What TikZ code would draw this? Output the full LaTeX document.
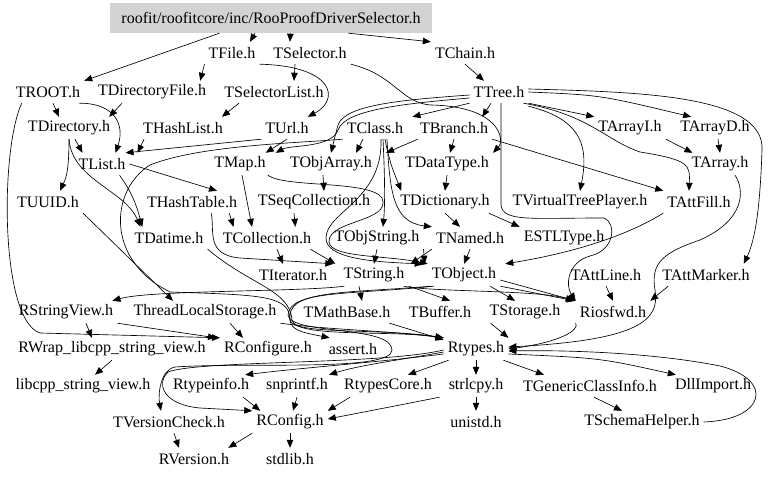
\documentclass[tikz,border=0pt]{standalone}
\usepackage{fontspec}
\setmainfont{Liberation Serif}
\usetikzlibrary{arrows.meta,calc}
\definecolor{rootgray}{RGB}{211,211,211}
\begin{document}
\begin{tikzpicture}[x=1pt,y=-1pt,
  n/.style={inner xsep=4pt,inner ysep=0pt,minimum height=22pt,font=\fontsize{16}{18}\selectfont},
  e/.style={-{Triangle[length=8pt,width=6.5pt]},line width=0.65pt},
  rootbox/.style={n,fill=rootgray,minimum width=322pt,minimum height=30pt}]
\useasboundingbox (0,0) rectangle (768,478);
% nodes
\node[rootbox] (root) at (271,18) {roofit/roofitcore/inc/RooProofDriverSelector.h};
\node[n] (TFile) at (232,53) {TFile.h};
\node[n] (TSelector) at (310,53) {TSelector.h};
\node[n] (TChain) at (465,53) {TChain.h};
\node[n] (TROOT) at (48,92) {TROOT.h};
\node[n] (TDirectoryFile) at (152,92) {TDirectoryFile.h};
\node[n] (TSelectorList) at (274,92) {TSelectorList.h};
\node[n] (TTree) at (499,92) {TTree.h};
\node[n] (TDirectory) at (69,128) {TDirectory.h};
\node[n] (THashList) at (183,128) {THashList.h};
\node[n] (TUrl) at (287,128) {TUrl.h};
\node[n] (TClass) at (375,128) {TClass.h};
\node[n] (TBranch) at (454,128) {TBranch.h};
\node[n] (TArrayI) at (630,128) {TArrayI.h};
\node[n] (TArrayD) at (715,128) {TArrayD.h};
\node[n] (TList) at (102,164) {TList.h};
\node[n] (TMap) at (240,164) {TMap.h};
\node[n] (TObjArray) at (331,164) {TObjArray.h};
\node[n] (TDataType) at (447,164) {TDataType.h};
\node[n] (TArray) at (720,164) {TArray.h};
\node[n] (TUUID) at (48,202) {TUUID.h};
\node[n] (THashTable) at (192,202) {THashTable.h};
\node[n] (TSeqCollection) at (314,202) {TSeqCollection.h};
\node[n] (TDictionary) at (445,202) {TDictionary.h};
\node[n] (TVirtualTreePlayer) at (580,202) {TVirtualTreePlayer.h};
\node[n] (TAttFill) at (699,202) {TAttFill.h};
\node[n] (TDatime) at (169,238) {TDatime.h};
\node[n] (TCollection) at (267,238) {TCollection.h};
\node[n] (TObjString) at (377,238) {TObjString.h};
\node[n] (TNamed) at (470,238) {TNamed.h};
\node[n] (ESTLType) at (564,238) {ESTLType.h};
\node[n] (TIterator) at (293,275) {TIterator.h};
\node[n] (TString) at (374,275) {TString.h};
\node[n] (TObject) at (464,275) {TObject.h};
\node[n] (TAttLine) at (606,275) {TAttLine.h};
\node[n] (TAttMarker) at (706,275) {TAttMarker.h};
\node[n] (RStringView) at (66,312) {RStringView.h};
\node[n] (ThreadLocalStorage) at (205,312) {ThreadLocalStorage.h};
\node[n] (TMathBase) at (347,312) {TMathBase.h};
\node[n] (TBuffer) at (440,312) {TBuffer.h};
\node[n] (TStorage) at (525,312) {TStorage.h};
\node[n] (Riosfwd) at (613,312) {Riosfwd.h};
\node[n] (RWrap) at (112,349) {RWrap\_libcpp\_string\_view.h};
\node[n] (RConfigure) at (268,349) {RConfigure.h};
\node[n] (assert) at (353,349) {assert.h};
\node[n] (Rtypes) at (476,349) {Rtypes.h};
\node[n] (libcpp) at (83,386) {libcpp\_string\_view.h};
\node[n] (Rtypeinfo) at (211,386) {Rtypeinfo.h};
\node[n] (snprintf) at (297,386) {snprintf.h};
\node[n] (RtypesCore) at (388,386) {RtypesCore.h};
\node[n] (strlcpy) at (476,386) {strlcpy.h};
\node[n] (TGenericClassInfo) at (590,386) {TGenericClassInfo.h};
\node[n] (DllImport) at (713,386) {DllImport.h};
\node[n] (TVersionCheck) at (169,422) {TVersionCheck.h};
\node[n] (RConfig) at (290,422) {RConfig.h};
\node[n] (unistd) at (476,422) {unistd.h};
\node[n] (TSchemaHelper) at (642,422) {TSchemaHelper.h};
\node[n] (RVersion) at (194,459) {RVersion.h};
\node[n] (stdlib) at (290,459) {stdlib.h};
% edges: top
\draw[e] ($(root.south west)!.34!(root.south east)$) -- (TROOT.north east);
\draw[e] ($(root.south west)!.45!(root.south east)$) -- ($(TFile.north)+(18,0)$);
\draw[e] ($(root.south west)!.56!(root.south east)$) -- ($(TSelector.north)+(-20,0)$);
\draw[e] ($(root.south west)!.74!(root.south east)$) -- (TChain.north west);
\draw[e] (TFile.south west) -- ($(TDirectoryFile.north east)+(-10,0)$);
\draw[e] (TFile.south east) .. controls (335,66) and (340,100) .. ($(TUrl.north east)+(-5,0)$);
\draw[e] ($(TSelector.south)+(-15,0)$) -- ($(TSelectorList.north)+(20,0)$);
\draw[e] (TSelector.south east) .. controls (395,75) and (400,102) .. (430,105) .. controls (500,106) and (505,140) .. (TDataType.north east);
\draw[e] (TChain.south) -- ($(TTree.north)+(-15,0)$);
\draw[e] ($(TROOT.south)+(5,0)$) -- ($(TDirectory.north)+(-10,0)$);
\draw[e] ($(TROOT.south east)+(-5,0)$) .. controls (115,103) and (125,125) .. ($(TList.north east)+(-14,0)$);
\draw[e] ($(TROOT.south west)+(10,0)$) .. controls (0,150) and (0,320) .. (40,333) -- (RConfigure.north west);
\draw[e] ($(TDirectoryFile.south)+(-30,0)$) -- ($(TDirectory.north east)+(-5,0)$);
\draw[e] ($(TSelectorList.south)+(-35,0)$) -- ($(THashList.north east)+(-5,0)$);
\draw[e] ($(THashList.south west)+(5,0)$) -- ($(TList.north east)+(8,0)$);
\draw[e] (TUrl.south west) -- ($(TList.north east)+(-4,0)$);
\draw[e] ($(TDirectory.south)+(6,0)$) -- ($(TList.north west)+(8,0)$);
\draw[e] (TUrl.south) -- ($(TMap.north east)+(-4,0)$);
\draw[e] (TDirectory.south) .. controls (69,175) and (65,180) .. ($(TUUID.north)+(12,0)$);
\draw[e] (TDirectory.south) .. controls (72,180) and (125,190) .. ($(TDatime.north west)+(10,0)$);
% TTree
\draw[e] (TTree.south west) -- ($(TClass.north east)+(5,0)$);
\draw[e] ($(TTree.south)+(-8,0)$) -- ($(TBranch.north east)+(-10,0)$);
\draw[e] (TTree.south east) -- (TArrayI.north west);
\draw[e] (TTree.east) .. controls (600,95) .. ($(TArrayD.north west)+(15,0)$);
\draw[e] ($(TTree.south east)+(0,3)$) .. controls (585,120) and (588,150) .. (TVirtualTreePlayer.north);
\draw[e] ($(TTree.south east)+(-5,0)$) .. controls (590,115) and (605,140) .. (640,152) .. controls (690,160) and (690,165) .. ($(TAttFill.north)+(-10,0)$);
\draw[e] ($(TTree.east)+(0,-3)$) .. controls (640,92) and (765,95) .. (762,150) .. controls (760,210) and (755,240) .. ($(TAttMarker.north east)+(-10,0)$);
\draw[e] ($(TTree.south)+(2,0)$) -- (501,205) .. controls (503,222) and (530,218) .. (604,218) .. controls (616,222) and (616,250) .. (590,256) .. controls (568,262) and (565,285) .. (Riosfwd.north west);
\draw[e] ($(TTree.west)+(0,3)$) .. controls (400,100) and (345,105) .. (338,125) .. controls (334,140) and (333,145) .. (TObjArray.north);
\draw[e] ($(TTree.west)+(0,6)$) .. controls (400,104) and (345,110) .. (338,130) .. controls (332,148) and (290,145) .. ($(TMap.north east)+(6,0)$);
% TClass, TBranch, TDataType
\draw[e] ($(TClass.south)+(-12,0)$) -- ($(TObjArray.north east)+(-20,0)$);
\draw[e] ($(TClass.south)+(10,0)$) .. controls (390,165) and (395,175) .. ($(TDictionary.north west)+(5,0)$);
\draw[e] ($(TClass.south)+(8,0)$) .. controls (385,180) and (385,205) .. ($(TObjString.north)+(6,0)$);
\draw[e] ($(TClass.south)+(12,0)$) .. controls (390,190) and (392,222) .. (TNamed.north west);
\draw[e] ($(TClass.south)+(6,0)$) .. controls (383,200) and (326,212) .. (326,238) .. controls (326,258) and (370,262) .. ($(TObject.north west)+(-5,0)$);
\draw[e] (TClass.south west) .. controls (300,143) and (200,145) .. (150,165) .. controls (110,190) and (105,260) .. (170,292) .. controls (260,295) and (290,295) .. (290,320) .. controls (292,335) and (380,328) .. (Rtypes.north west);
\draw[e] ($(TBranch.south west)+(2,0)$) -- ($(TObjArray.north east)+(10,0)$);
\draw[e] (TBranch.south) -- ($(TDataType.north)+(3,0)$);
\draw[e] (TBranch.south east) -- (TAttFill.north west);
\draw[e] (TDataType.south) -- (TDictionary.north);
\draw[e] ($(TDictionary.south east)+(-5,0)$) -- (ESTLType.north west);
\draw[e] (TDictionary.south) -- ($(TNamed.north)+(-10,0)$);
\draw[e] (TArrayI.south east) -- ($(TArray.north west)+(5,0)$);
\draw[e] ($(TArrayD.south)+(3,0)$) -- ($(TArray.north)+(0,0)$);
\draw[e] ($(TArray.south)+(15,0)$) .. controls (745,190) and (745,220) .. (700,240) .. controls (665,252) and (650,262) .. (655,290) .. controls (660,320) and (640,340) .. ($(Rtypes.east)+(0,-2)$);
% middle
\draw[e] (TList.east) -- ($(THashTable.north)+(25,0)$);
\draw[e] ($(TList.south east)+(-10,0)$) .. controls (130,190) and (135,200) .. ($(TDatime.north west)+(12,0)$);
\draw[e] ($(TMap.south)+(2,0)$) -- ($(TCollection.north)+(-15,0)$);
\draw[e] ($(THashTable.south east)+(-12,0)$) -- ($(TCollection.north west)+(15,0)$);
\draw[e] ($(TSeqCollection.south)+(-20,0)$) -- ($(TCollection.north east)+(-20,0)$);
\draw[e] ($(TObjArray.south)+(-8,0)$) -- ($(TSeqCollection.north)+(10,0)$);
\draw[e] ($(TMap.south east)+(-2,0)$) .. controls (285,188) and (370,180) .. (382,198) .. controls (392,222) and (328,220) .. (329,242) .. controls (331,258) and (385,255) .. ($(TObject.north west)+(0,0)$);
\draw[e] ($(TCollection.south)+(10,0)$) -- ($(TIterator.north)+(-10,0)$);
\draw[e] ($(TCollection.south east)+(-5,0)$) -- ($(TString.north west)+(-4,0)$);
\draw[e] ($(THashTable.south east)+(-30,0)$) .. controls (215,230) and (205,255) .. (240,258) -- ($(TString.north west)+(-6,0)$);
\draw[e] (TObjString.south) -- (TString.north);
\draw[e] (TObjString.south east) -- ($(TObject.north west)+(-3,0)$);
\draw[e] (TNamed.south) -- (TObject.north);
\draw[e] (TNamed.south west) -- ($(TString.north east)+(2,0)$);
\draw[e] (TAttFill.south west) .. controls (620,240) and (560,255) .. ($(TObject.north east)+(5,0)$);
\draw[e] (TUUID.south east) -- ($(ThreadLocalStorage.north)+(-32,0)$);
% lower
\draw[e] ($(TString.south)+(-15,0)$) -- ($(TMathBase.north)+(15,0)$);
\draw[e] ($(TString.south west)+(5,0)$) .. controls (300,292) and (150,290) .. ($(RStringView.north east)+(-5,0)$);
\draw[e] (TString.south east) .. controls (420,290) .. ($(TBuffer.north)+(10,0)$);
\draw[e] ($(TString.south east)+(-5,0)$) .. controls (430,292) and (540,290) .. ($(Riosfwd.north west)+(-2,0)$);
\draw[e] ($(TObject.south east)+(-10,0)$) -- ($(TStorage.north)+(-10,0)$);
\draw[e] (TObject.south east) -- ($(Riosfwd.north west)+(-1,0)$);
\draw[e] ($(TObject.east)+(0,5)$) -- (Riosfwd.north west);
\draw[e] (TAttLine.south) -- (Riosfwd.north);
\draw[e] ($(TAttMarker.south west)+(10,0)$) -- (Riosfwd.north east);
\draw[e] ($(TObject.south west)+(3,0)$) .. controls (350,293) and (292,290) .. (290,315) .. controls (288,330) and (300,332) .. ($(assert.north west)+(5,0)$);
\draw[e] ($(TObject.south west)+(6,0)$) .. controls (350,295) and (290,290) .. (288,315) .. controls (290,335) and (392,325) .. (392,350) .. controls (392,372) and (250,362) .. (175,367) .. controls (160,370) and (158,395) .. ($(TVersionCheck.north)+(-8,0)$);
\draw[e] (TDatime.south east) .. controls (250,285) and (290,290) .. (292,320) .. controls (295,338) and (390,330) .. (Rtypes.north west);
\draw[e] ($(TMathBase.south east)+(-5,0)$) -- ($(Rtypes.north west)+(0,2)$);
\draw[e] ($(TStorage.south west)+(5,0)$) -- (Rtypes.north east);
\draw[e] (Riosfwd.south west) .. controls (580,330) and (560,342) .. (Rtypes.east);
\draw[e] (TSchemaHelper.east) .. controls (765,420) and (775,380) .. (720,366) .. controls (650,352) and (560,350) .. ($(Rtypes.east)+(0,2)$);
\draw[e] ($(RStringView.south)+(20,0)$) -- ($(RWrap.north)+(-20,0)$);
\draw[e] (RStringView.south east) -- ($(RConfigure.north west)+(-4,0)$);
\draw[e] ($(ThreadLocalStorage.south)+(25,0)$) -- ($(RConfigure.north)+(-25,0)$);
\draw[e] (ThreadLocalStorage.south east) .. controls (330,330) and (380,330) .. (Rtypes.north west);
\draw[e] (RWrap.south) -- ($(libcpp.north)+(12,0)$);
\draw[e] ($(Rtypes.west)+(0,5)$) .. controls (380,362) and (300,368) .. ($(Rtypeinfo.north east)+(-8,0)$);
\draw[e] ($(Rtypes.west)+(0,3)$) .. controls (400,360) and (360,365) .. ($(snprintf.north east)+(-3,0)$);
\draw[e] ($(Rtypes.west)+(0,1)$) .. controls (380,365) and (200,360) .. (168,372) .. controls (155,385) and (165,405) .. (200,408) -- (RConfig.north west);
\draw[e] ($(Rtypes.south west)+(5,0)$) -- ($(RtypesCore.north)+(20,0)$);
\draw[e] (Rtypes.south) -- (strlcpy.north);
\draw[e] ($(Rtypes.south east)+(-5,0)$) -- ($(TGenericClassInfo.north west)+(25,0)$);
\draw[e] ($(Rtypes.east)+(0,5)$) .. controls (600,358) .. ($(DllImport.north west)+(5,0)$);
\draw[e] ($(TGenericClassInfo.south)+(4,0)$) -- ($(TSchemaHelper.north)+(-20,0)$);
\draw[e] (strlcpy.south) -- (unistd.north);
\draw[e] ($(strlcpy.south west)+(-5,0)$) .. controls (400,405) .. ($(RConfig.east)+(0,-3)$);
\draw[e] ($(RtypesCore.south west)+(10,0)$) -- (RConfig.north east);
\draw[e] (snprintf.south) -- ($(RConfig.north)+(3,0)$);
\draw[e] ($(Rtypeinfo.south east)+(-10,0)$) -- ($(RConfig.north west)+(8,0)$);
\draw[e] (RConfig.south west) -- ($(RVersion.north east)+(-5,0)$);
\draw[e] (RConfig.south) -- (stdlib.north);
\draw[e] ($(TVersionCheck.south)+(5,0)$) -- ($(RVersion.north)+(-15,0)$);
\end{tikzpicture}
\end{document}
